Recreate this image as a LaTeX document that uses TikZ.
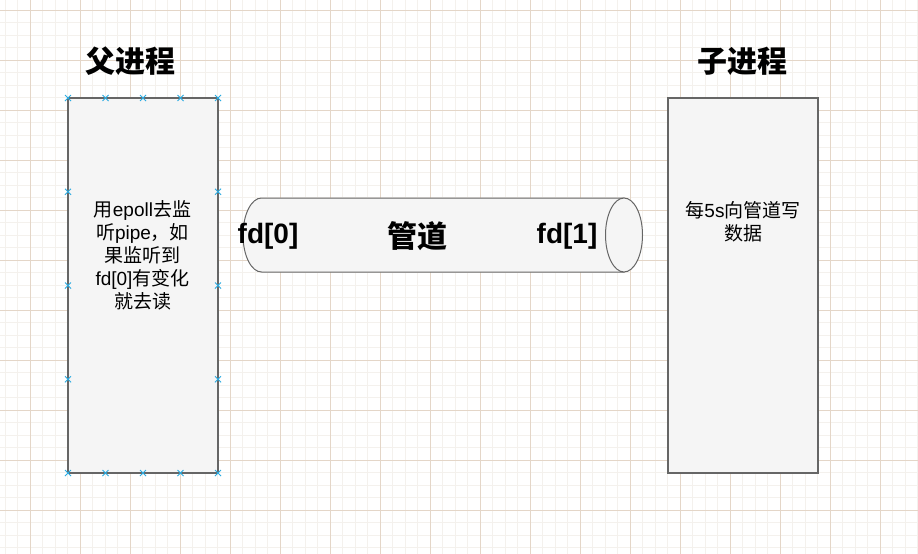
\documentclass[tikz,border=0pt]{standalone}
\usepackage{fontspec}
\setmainfont{Liberation Sans}
\newfontfamily\cjk{Noto Sans CJK SC}
\newcommand\zhs[1]{{\cjk #1}}
\definecolor{gridmajor}{HTML}{E4D6C8}
\definecolor{gridminor}{HTML}{F4F1ED}
\definecolor{boxfill}{HTML}{F5F5F5}
\definecolor{boxline}{HTML}{666666}
\definecolor{handle}{HTML}{29ABE2}
\tikzset{
  procbox/.style={draw=boxline, fill=boxfill, line width=1.3pt, minimum width=150pt, minimum height=375pt, inner sep=0pt},
  title/.style={font=\fontsize{30}{34}\selectfont\bfseries\cjk, text=black, inner sep=0pt},
  pipelabel/.style={font=\fontsize{28}{32}\selectfont\bfseries, text=black, inner sep=0pt},
  bodytext/.style={font=\fontsize{19}{23}\selectfont, align=center, text=black, inner sep=0pt},
  handlemark/.style={draw=handle, line width=1pt},
}
\begin{document}
\begin{tikzpicture}[x=1pt,y=-1pt]
\useasboundingbox (0,0) rectangle (918,554);
\fill[white] (0,0) rectangle (918,554);
% grid
\foreach \i in {0,...,74} {
  \draw[gridminor, line width=1pt] ({5+12.5*\i},0) -- ({5+12.5*\i},554);
}
\foreach \j in {0,...,44} {
  \draw[gridminor, line width=1pt] (0,{10+12.5*\j}) -- (918,{10+12.5*\j});
}
\foreach \i in {0,...,18} {
  \draw[gridmajor, line width=1pt] ({30+50*\i},0) -- ({30+50*\i},554);
}
\foreach \j in {0,...,11} {
  \draw[gridmajor, line width=1pt] (0,{10+50*\j}) -- (918,{10+50*\j});
}
% titles
\node[title] (t1) at (130,61) {父进程};
\node[title] (t2) at (742,61) {子进程};
% boxes
\node[procbox] (parent) at (143,285.5) {};
\node[procbox] (child) at (743,285.5) {};
% pipe (cylinder)
\draw[draw=boxline, fill=boxfill, line width=1pt]
  (624,198) -- (261.5,198) arc[start angle=270, end angle=90, x radius=18.5, y radius=37] -- (624,272) -- cycle;
\draw[draw=boxline, fill=boxfill, line width=1pt] (624,235) ellipse[x radius=18.5, y radius=37];
\node[pipelabel] (fd0) at (268,236) {fd[0]};
\node[title] (pipe) at (417,236) {管道};
\node[pipelabel] (fd1) at (567,236) {fd[1]};
% texts
\node[bodytext] (ptext) at (142.5,255.5) {\zhs{用}epoll\zhs{去监}\\\zhs{听}pipe\zhs{，如}\\\zhs{果监听到}\\fd[0]\zhs{有变化}\\\zhs{就去读}};
\node[bodytext] (ctext) at (743,222) {\zhs{每}5s\zhs{向管道写}\\\zhs{数据}};
% selection handles
\foreach \x in {68,105.5,143,180.5,218} {
  \foreach \y in {98,473} {
    \draw[handlemark] (\x-3,\y-3) -- (\x+3,\y+3) (\x-3,\y+3) -- (\x+3,\y-3);
  }
}
\foreach \x in {68,218} {
  \foreach \y in {191.75,285.5,379.25} {
    \draw[handlemark] (\x-3,\y-3) -- (\x+3,\y+3) (\x-3,\y+3) -- (\x+3,\y-3);
  }
}
\end{tikzpicture}
\end{document}
